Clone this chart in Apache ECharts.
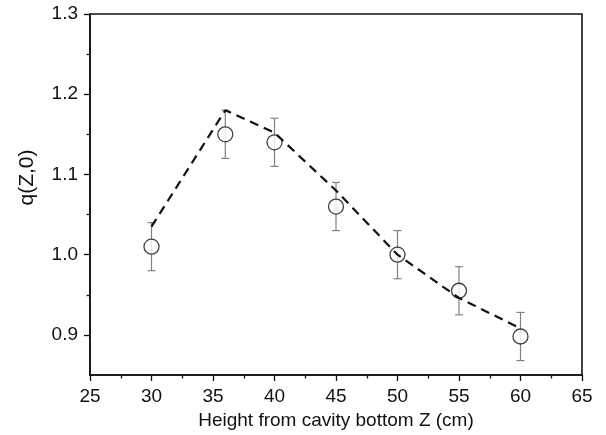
<!DOCTYPE html>
<html><head><meta charset="utf-8">
<script src="https://cdn.jsdelivr.net/npm/echarts@6/dist/echarts.min.js"></script>
<style>html,body{margin:0;padding:0;background:#fff}#c{width:606px;height:435px}</style>
</head><body><div id="c"></div>
<script>
// Data
const heights = [30, 36, 40, 45, 50, 55, 60];
const qValues = [1.01, 1.15, 1.14, 1.06, 1.00, 0.955, 0.898];
const errLow  = [0.98, 1.12, 1.11, 1.03, 0.97, 0.925, 0.868];
const errHigh = [1.04, 1.18, 1.17, 1.09, 1.03, 0.985, 0.928];
const fitX = [30, 36, 40, 45, 50, 55, 60];
const fitY = [1.035, 1.18, 1.152, 1.08, 1.0, 0.946, 0.908];
const yMajorTicks = [0.9, 1.0, 1.1, 1.2, 1.3];
const yMinorTicks = [0.95, 1.05, 1.15, 1.25];

const FONT = "'Liberation Sans', Arial, sans-serif";
const chart = echarts.init(document.getElementById('c'), null, {renderer: 'canvas'});

const pointData = heights.map((h, i) => [h, qValues[i]]);
const errData = heights.map((h, i) => [h, errLow[i], errHigh[i]]);
const fitData = fitX.map((x, i) => [x, fitY[i]]);

chart.setOption({
  animation: false,
  backgroundColor: '#fff',
  grid: {left: 90, right: 24, top: 14, bottom: 60, show: true, borderColor: '#111', borderWidth: 1.6, backgroundColor: 'transparent'},
  xAxis: {
    type: 'value', min: 25, max: 65, interval: 5,
    name: 'Height from cavity bottom Z (cm)', nameLocation: 'middle', nameGap: 33,
    nameTextStyle: {fontFamily: FONT, fontSize: 19, color: '#111'},
    axisLine: {show: true, lineStyle: {color: '#111', width: 1.6}},
    axisTick: {show: true, inside: false, length: 6, lineStyle: {color: '#111', width: 1.3}},
    minorTick: {show: true, splitNumber: 2, length: 3.5, lineStyle: {color: '#111', width: 1.3}},
    axisLabel: {fontFamily: FONT, fontSize: 19, color: '#111', margin: 12},
    splitLine: {show: false}
  },
  yAxis: [{
    type: 'value', min: 0.85, max: 1.3, position: 'left',
    name: 'q(Z,0)', nameLocation: 'middle', nameGap: 52, nameRotate: 90,
    nameTextStyle: {fontFamily: FONT, fontSize: 21, color: '#111', padding: [0, 0, 0, 34]},
    axisLine: {show: true, lineStyle: {color: '#111', width: 1.6}},
    axisTick: {show: true, inside: false, length: 6, customValues: yMajorTicks, lineStyle: {color: '#111', width: 1.3}},
    axisLabel: {fontFamily: FONT, fontSize: 19, color: '#111', margin: 12, customValues: yMajorTicks,
      formatter: v => Number(v).toFixed(1)},
    splitLine: {show: false}
  }, {
    type: 'value', min: 0.85, max: 1.3, position: 'left',
    axisLine: {show: false},
    axisTick: {show: true, inside: false, length: 3.5, customValues: yMinorTicks, lineStyle: {color: '#111', width: 1.3}},
    axisLabel: {show: false},
    splitLine: {show: false}
  }],
  series: [{
    type: 'custom', z: 2,
    data: errData,
    renderItem: function (params, api) {
      const x = api.value(0);
      const lo = api.coord([x, api.value(1)]);
      const hi = api.coord([x, api.value(2)]);
      const cw = 4;
      const style = {stroke: '#808080', lineWidth: 1.2};
      return {type: 'group', children: [
        {type: 'line', shape: {x1: lo[0], y1: lo[1], x2: hi[0], y2: hi[1]}, style: style},
        {type: 'line', shape: {x1: lo[0] - cw, y1: lo[1], x2: lo[0] + cw, y2: lo[1]}, style: style},
        {type: 'line', shape: {x1: hi[0] - cw, y1: hi[1], x2: hi[0] + cw, y2: hi[1]}, style: style}
      ]};
    }
  }, {
    type: 'scatter', z: 3,
    data: pointData,
    symbol: 'circle', symbolSize: 15,
    itemStyle: {color: '#fff', borderColor: '#111', borderWidth: 1.3}
  }, {
    type: 'line', z: 4,
    data: fitData,
    showSymbol: false, symbol: 'none',
    lineStyle: {color: '#111', width: 2.2, type: [9, 6]}
  }]
});
</script></body></html>
